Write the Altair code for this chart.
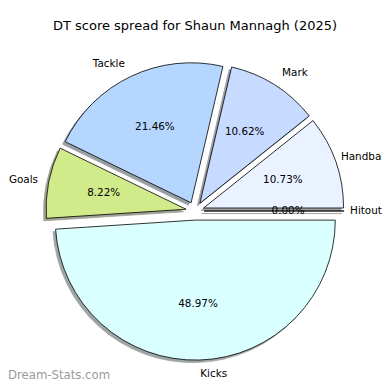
import altair as alt
import pandas as pd

# ---- data ----
categories = ["Hitout", "Handball", "Mark", "Tackle", "Goals", "Kicks"]
shares = [0.00, 10.73, 10.62, 21.46, 8.22, 48.97]
colors = ["#f2f2f2", "#eaf1ff", "#c6dbff", "#b5d7ff", "#d2eb8a", "#d9ffff"]

TITLE = "DT score spread for Shaun Mannagh (2025)"
WATERMARK = "Dream-Stats.com"

# ---- layout / style ----
W, H = 374, 374          # svg size (screen = svg + 8px page margin)
CX, CY = 187, 203        # pie centre in svg pixels
R = 140                  # pie radius in pixels
EXPLODE = 0.065          # explode distance (pie radii)
SHADOW = 0.018           # shadow offset (pie radii)
FONT = "DejaVu Sans"
LEFT_MIN = (30 - CX) / R  # keep right-aligned labels inside the page


def shade(c):
    r, g, b = int(c[1:3], 16), int(c[3:5], 16), int(c[5:7], 16)
    return "#%02x%02x%02x" % tuple(int(round(0.3 * v)) for v in (r, g, b))


df = pd.DataFrame({
    "cat": categories,
    "value": shares,
    "color": colors,
    "shadow": [shade(c) for c in colors],
    "order": list(range(len(categories))),
})

xs = alt.Scale(domain=[-CX / R, (W - CX) / R], nice=False, zero=False)
ys = alt.Scale(domain=[-(H - CY) / R, CY / R], nice=False, zero=False)

base = (
    alt.Chart(df)
    .transform_window(cum="sum(value)", sort=[alt.SortField("order", order="ascending")], frame=[None, 0])
    .transform_joinaggregate(total="sum(value)")
    .transform_calculate(a0="2*PI*(datum.cum - datum.value)/datum.total")
    .transform_calculate(a1="2*PI*datum.cum/datum.total")
    .transform_calculate(mid="(datum.a0 + datum.a1)/2")
    .transform_calculate(th0="2.5*PI - datum.a1")
    .transform_calculate(th1="2.5*PI - datum.a0")
    .transform_calculate(cx=f"{EXPLODE}*cos(datum.mid)")
    .transform_calculate(cy=f"{EXPLODE}*sin(datum.mid)")
    .transform_calculate(sx=f"datum.cx - {SHADOW}")
    .transform_calculate(sy=f"datum.cy - {SHADOW}")
    .transform_calculate(lx="datum.cx + 1.1*cos(datum.mid)")
    .transform_calculate(ly="datum.cy + 1.1*sin(datum.mid)")
    .transform_calculate(px="datum.cx + 0.6*cos(datum.mid)")
    .transform_calculate(py="datum.cy + 0.6*sin(datum.mid)")
    .transform_calculate(pct="format(100*datum.value/datum.total, '.2f') + '%'")
)

shadows = base.mark_arc(radius=R, opacity=0.5, strokeWidth=0.8).encode(
    x=alt.X("sx:Q", scale=xs, axis=None),
    y=alt.Y("sy:Q", scale=ys, axis=None),
    theta=alt.Theta("th0:Q", scale=None),
    theta2=alt.Theta2("th1:Q"),
    fill=alt.Fill("shadow:N", scale=None, legend=None),
    stroke=alt.Stroke("shadow:N", scale=None, legend=None),
)

wedges = base.mark_arc(radius=R, stroke="black", strokeWidth=0.8).encode(
    x=alt.X("cx:Q", scale=xs, axis=None),
    y=alt.Y("cy:Q", scale=ys, axis=None),
    theta=alt.Theta("th0:Q", scale=None),
    theta2=alt.Theta2("th1:Q"),
    fill=alt.Fill("color:N", scale=None, legend=None),
)

txt = dict(font=FONT, fontSize=10.4, baseline="middle", color="black")

# labels right of the pie, away from the page edge
labels_right = base.transform_filter(
    "cos(datum.mid) > 0 && cos(datum.mid) <= 0.9"
).mark_text(align="left", **txt).encode(
    x=alt.X("lx:Q", scale=xs, axis=None),
    y=alt.Y("ly:Q", scale=ys, axis=None),
    text="cat:N",
)
# labels at the far right edge, pulled in so that they stay on the page
labels_edge = base.transform_filter("cos(datum.mid) > 0.9").mark_text(
    align="left", dx=-8, **txt
).encode(
    x=alt.X("lx:Q", scale=xs, axis=None),
    y=alt.Y("ly:Q", scale=ys, axis=None),
    text="cat:N",
)
labels_left = base.transform_filter("cos(datum.mid) <= 0").transform_calculate(
    lxc=f"max(datum.lx, {LEFT_MIN})"
).mark_text(align="right", **txt).encode(
    x=alt.X("lxc:Q", scale=xs, axis=None),
    y=alt.Y("ly:Q", scale=ys, axis=None),
    text="cat:N",
)

pcts = base.mark_text(align="center", **txt).encode(
    x=alt.X("px:Q", scale=xs, axis=None),
    y=alt.Y("py:Q", scale=ys, axis=None),
    text="pct:N",
)

title = alt.Chart(pd.DataFrame({"t": [TITLE]})).mark_text(
    font=FONT, fontSize=13, align="center", baseline="alphabetic", color="black"
).encode(x=alt.value(187), y=alt.value(22), text="t:N")

mark = alt.Chart(pd.DataFrame({"t": [WATERMARK]})).mark_text(
    font=FONT, fontSize=11.7, align="left", baseline="alphabetic", color="#9a9a9a"
).encode(x=alt.value(0), y=alt.value(371), text="t:N")

chart = alt.layer(
    shadows, wedges, labels_right, labels_edge, labels_left, pcts, title, mark
).properties(
    width=W, height=H,
    autosize=alt.AutoSizeParams(type="none"),
    padding=0,
    background="white",
).configure_view(stroke=None)

chart.save("out.html", embed_options={"renderer": "svg", "actions": False})
